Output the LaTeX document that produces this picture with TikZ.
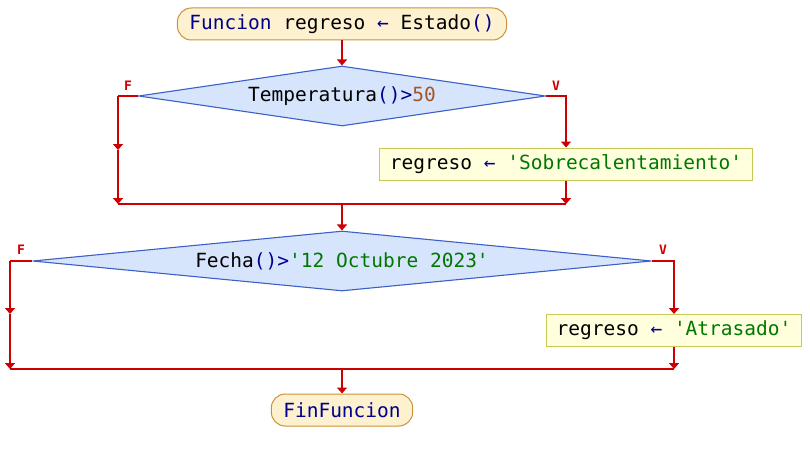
\documentclass[tikz,border=0pt]{standalone}
\usepackage{fontspec}
\setmonofont{DejaVu Sans Mono}
\usepackage{xcolor}
\definecolor{pskeyword}{RGB}{0,0,140}
\definecolor{psstring}{RGB}{0,120,0}
\definecolor{psnumber}{RGB}{165,85,40}
\definecolor{psflow}{RGB}{204,0,0}
\definecolor{psterm}{RGB}{253,241,208}
\definecolor{psterm4}{RGB}{205,145,55}
\definecolor{psdecision}{RGB}{214,228,252}
\definecolor{psdecision4}{RGB}{60,95,200}
\definecolor{psassign}{RGB}{255,255,222}
\definecolor{psassign4}{RGB}{200,200,85}
\usetikzlibrary{arrows.meta,positioning,shapes.geometric}
\newcommand{\kw}[1]{\textcolor{pskeyword}{#1}}
\tikzset{
  termbox/.style={draw=psterm4, fill=#1, rounded corners=14pt, line width=1pt,
                  font=\fontsize{19.5}{22}\selectfont\ttfamily,
                  minimum height=32pt, inner xsep=12pt},
  decision/.style={draw=psdecision4, fill=#1, diamond, line width=1.1pt,
                   font=\fontsize{19.5}{22}\selectfont\ttfamily,
                   minimum height=60pt, inner sep=1pt},
  assign/.style={draw=psassign4, fill=#1, line width=1pt,
                 font=\fontsize{19.5}{22}\selectfont\ttfamily,
                 minimum height=32pt, inner xsep=10pt},
  flag/.style={text=psflow, font=\fontsize{13}{14}\selectfont\ttfamily\bfseries, inner sep=0pt},
  flow/.style={psflow, line width=2.2pt, -{Triangle[width=10pt,length=6pt]}},
  flowline/.style={psflow, line width=2.2pt},
}

\begin{document}
\begin{tikzpicture}[x=1pt, y=-1pt]
\useasboundingbox (0,0) rectangle (810,460);

% Start of the function
\node[termbox=psterm] (start) at (342,24) {\kw{Funcion} regreso \kw{←} Estado\kw{()}};

% First condition
\node[decision=psdecision, aspect=6.8, minimum width=407pt] (cond1) at (342,96)
      {Temperatura\kw{()>}\textcolor{psnumber}{50}};
\node[flag] (f1) at (128,86) {F};
\node[flag] (v1) at (556,86) {V};
\node[assign=psassign] (set1) at (566,164)
      {regreso \kw{←} \textcolor{psstring}{'Sobrecalentamiento'}};

\coordinate (left1) at (118,96);
\coordinate (mid1) at (118,150);
\coordinate (low1) at (118,204);
\coordinate (join1) at (342,204);
\coordinate (right1) at (566,204);

\draw[flow] (start) -- (cond1);
\draw[flowline] (cond1.west) -- (left1);
\draw[flow] (left1) -- (mid1);
\draw[flow] (mid1) -- (low1);
\draw[flow] (cond1.east) -| (set1.north);
\draw[flow] (set1) -- (right1);
\draw[flowline] (low1) -- (right1);

% Second condition
\node[decision=psdecision, aspect=10.3, minimum width=619pt] (cond2) at (342,261)
      {Fecha\kw{()>}\textcolor{psstring}{'12 Octubre 2023'}};
\node[flag] (f2) at (21,250) {F};
\node[flag] (v2) at (663,250) {V};
\node[assign=psassign] (set2) at (674,330.5)
      {regreso \kw{←} \textcolor{psstring}{'Atrasado'}};

\coordinate (left2) at (10,261);
\coordinate (mid2) at (10,314);
\coordinate (low2) at (10,369);
\coordinate (join2) at (342,369);
\coordinate (right2) at (674,369);

\draw[flow] (join1) -- (cond2);
\draw[flowline] (cond2.west) -- (left2);
\draw[flow] (left2) -- (mid2);
\draw[flow] (mid2) -- (low2);
\draw[flow] (cond2.east) -| (set2.north);
\draw[flow] (set2) -- (right2);
\draw[flowline] (low2) -- (right2);

% End of the function
\node[termbox=psterm] (stop) at (342,410) {\kw{FinFuncion}};
\draw[flow] (join2) -- (stop);

\end{tikzpicture}
\end{document}
